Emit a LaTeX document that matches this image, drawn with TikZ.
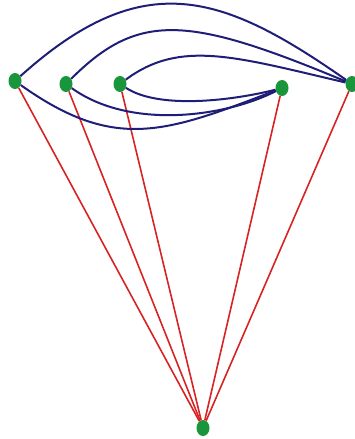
\documentclass[tikz,border=0pt]{standalone}
\usetikzlibrary{shapes.geometric}
\definecolor{navy}{RGB}{30,30,120}
\definecolor{redl}{RGB}{215,35,35}
\definecolor{dotg}{RGB}{25,150,60}
\begin{document}
\begin{tikzpicture}[x=1pt,y=-1pt,
  dot/.style={ellipse,fill=dotg,minimum width=13pt,minimum height=16pt,inner sep=0pt},
  arcline/.style={navy,line width=2pt},
  spoke/.style={redl,line width=1.6pt}]
\useasboundingbox (0,0) rectangle (355,439);
\node[dot] (A) at (15,81) {};
\node[dot] (B) at (66,84) {};
\node[dot] (C) at (120,84) {};
\node[dot] (D) at (282,88) {};
\node[dot] (E) at (352,84) {};
\node[dot] (F) at (203,428) {};
\draw[spoke] (A) -- (F);
\draw[spoke] (B) -- (F);
\draw[spoke] (C) -- (F);
\draw[spoke] (D) -- (F);
\draw[spoke] (E) -- (F);
\draw[arcline] (A) .. controls (144,-35) and (223,-6) .. (E);
\draw[arcline] (B) .. controls (139,11) and (189,16) .. (E);
\draw[arcline] (C) .. controls (180,39) and (236,57) .. (E);
\draw[arcline] (A) .. controls (115,152) and (165,133) .. (D);
\draw[arcline] (B) .. controls (130,130) and (225,117) .. (D);
\draw[arcline] (C) .. controls (160,110) and (235,100) .. (D);
\end{tikzpicture}
\end{document}
